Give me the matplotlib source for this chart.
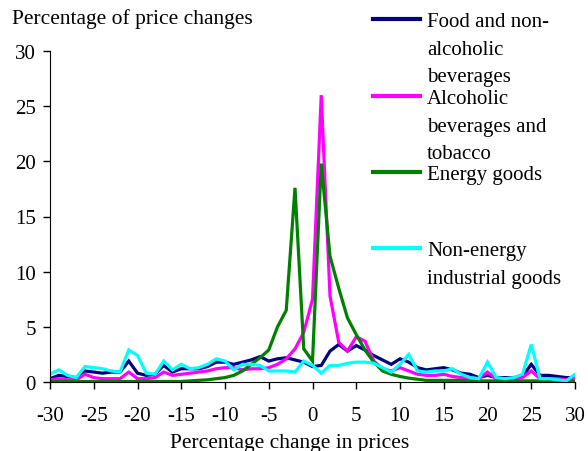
import numpy as np
import matplotlib
matplotlib.use("Agg")
import matplotlib.pyplot as plt
from matplotlib.lines import Line2D

plt.rcParams['font.family'] = ['Liberation Serif', 'DejaVu Serif']
plt.rcParams['axes.unicode_minus'] = False

# percentage change in prices, -30 .. 30
x = np.arange(-30, 31)

food = [0.3, 0.6, 0.5, 0.4, 1.0, 0.9, 0.8, 0.9, 0.9, 1.9,
        0.8, 0.6, 0.7, 1.5, 0.9, 1.2, 1.2, 1.2, 1.4, 1.8,
        1.8, 1.6, 1.8, 2.0, 2.3, 1.9, 2.1, 2.2, 2.0, 1.8,
        1.4,
        1.5, 2.8, 3.4, 2.8, 3.3, 2.9, 2.4, 2.0, 1.6, 2.1,
        1.8, 1.3, 1.1, 1.2, 1.3, 1.1, 0.8, 0.7, 0.4, 0.6,
        0.4, 0.4, 0.4, 0.5, 1.6, 0.6, 0.6, 0.5, 0.4, 0.4]

alcohol = [0.2, 0.3, 0.2, 0.2, 0.7, 0.4, 0.3, 0.3, 0.3, 0.9,
           0.3, 0.3, 0.4, 0.9, 0.6, 0.7, 0.8, 0.9, 1.0, 1.2,
           1.3, 1.3, 1.1, 1.2, 1.2, 1.3, 1.6, 2.1, 3.0, 4.5,
           7.5,
           26.0, 7.8, 3.6, 2.8, 4.1, 3.7, 1.9, 1.2, 1.0, 1.3,
           1.0, 0.7, 0.6, 0.6, 0.7, 0.5, 0.4, 0.4, 0.3, 0.9,
           0.3, 0.3, 0.3, 0.4, 1.0, 0.3, 0.3, 0.3, 0.2, 0.4]

energy = [0.05, 0.05, 0.05, 0.05, 0.05, 0.05, 0.05, 0.05, 0.05, 0.05,
          0.05, 0.05, 0.05, 0.05, 0.05, 0.05, 0.1, 0.15, 0.2, 0.3,
          0.4, 0.6, 1.0, 1.6, 2.2, 2.9, 5.0, 6.5, 17.6, 3.0,
          1.9,
          19.8, 11.4, 8.5, 5.8, 4.3, 2.9, 1.8, 1.0, 0.7, 0.5,
          0.35, 0.25, 0.15, 0.15, 0.15, 0.15, 0.15, 0.1, 0.1, 0.1,
          0.1, 0.1, 0.1, 0.1, 0.1, 0.1, 0.1, 0.1, 0.1, 0.1]

nonenergy = [0.7, 1.1, 0.6, 0.4, 1.4, 1.3, 1.2, 1.0, 0.9, 2.9,
             2.4, 0.8, 0.7, 1.9, 1.1, 1.6, 1.2, 1.3, 1.6, 2.1,
             1.9, 1.1, 1.6, 1.6, 1.5, 1.0, 1.0, 1.0, 0.9, 1.9,
             1.5,
             0.8, 1.5, 1.5, 1.7, 1.8, 1.8, 1.7, 1.3, 0.9, 1.6,
             2.5, 1.0, 0.9, 1.0, 1.0, 1.2, 0.7, 0.4, 0.3, 1.8,
             0.4, 0.3, 0.4, 0.7, 3.4, 0.3, 0.3, 0.2, 0.1, 0.7]

labels = ["Food and non-\nalcoholic\nbeverages",
          "Alcoholic\nbeverages and\ntobacco",
          "Energy goods",
          "Non-energy\nindustrial goods"]
colors = ["#000080", "#ff00ff", "#008000", "#00ffff"]
series = [food, alcohol, energy, nonenergy]

W, H = 588, 452
fig = plt.figure(figsize=(W / 100, H / 100), dpi=100)
ax = fig.add_axes([50 / W, 1 - 383 / H, 525 / W, 331 / H])

for s, c in zip(series, colors):
    ax.plot(x, s, color=c, lw=2.3, solid_joinstyle='miter')

ax.set_xlim(-30, 30)
ax.set_ylim(0, 30)
ax.set_xticks(np.arange(-30, 31, 5))
ax.set_yticks(np.arange(0, 31, 5))
for sp in ['top', 'right']:
    ax.spines[sp].set_visible(False)
ax.tick_params(direction='out', length=5, width=1, labelsize=15)
ax.tick_params(axis='x', pad=12)
ax.tick_params(axis='y', pad=5)

fig.text(12 / W, 1 - 19 / H, "Percentage of price changes", fontsize=15.5, va='center')
fig.text(290 / W, 1 - 444 / H, "Percentage change in prices", fontsize=15.5,
         ha='center', va='center')

# legend drawn by hand so the entries keep the reference spacing
handle_y = [20, 97, 173, 249]
for lab, c, hy in zip(labels, colors, handle_y):
    fig.add_artist(Line2D([373 / W, 420 / W], [1 - hy / H] * 2, color=c, lw=3))
    fig.text(427 / W, 1 - (hy - 7) / H, lab, fontsize=15, va='top',
             linespacing=1.62)

fig.savefig("out.png", dpi=100)
